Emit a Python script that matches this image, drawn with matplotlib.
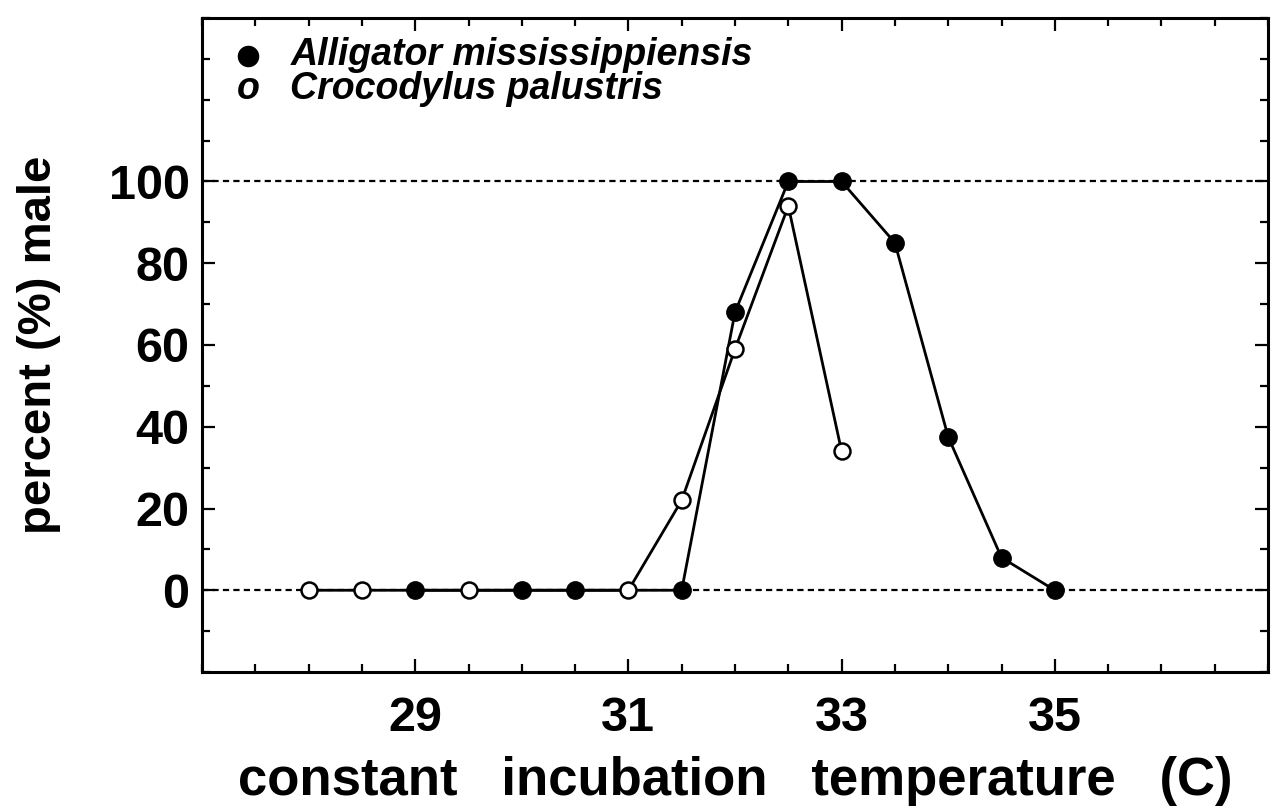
import matplotlib
matplotlib.use("Agg")
import matplotlib.pyplot as plt
from matplotlib.ticker import MultipleLocator

# data
alligator_temp = [29, 30, 30.5, 31.5, 32, 32.5, 33, 33.5, 34, 34.5, 35]
alligator_male = [0, 0, 0, 0, 68, 100, 100, 85, 37.5, 8, 0]
croc_temp = [28, 28.5, 29.5, 31, 31.5, 32, 32.5, 33]
croc_male = [0, 0, 0, 0, 22, 59, 94, 34]

x_ticks = [29, 31, 33, 35]
y_ticks = [0, 20, 40, 60, 80, 100]

plt.rcParams['font.family'] = ['Liberation Sans', 'DejaVu Sans']

W, H = 1272, 810
fig = plt.figure(figsize=(W / 100, H / 100), dpi=100)
ax = fig.add_axes([202 / W, 1 - 672 / H, (1268 - 202) / W, (672 - 18) / H])

# dotted reference lines at 0 and 100
for yv in [0, 100]:
    ax.axhline(yv, color='black', lw=1.6, linestyle=(0, (2.8, 1.9)), zorder=1)

ax.plot(alligator_temp, alligator_male, color='black', lw=2.0, zorder=2,
        marker='o', markersize=12.5, markerfacecolor='black', markeredgecolor='black')
ax.plot(croc_temp, croc_male, color='black', lw=2.0, zorder=3,
        marker='o', markersize=11.5, markerfacecolor='white', markeredgecolor='black',
        markeredgewidth=1.8)

ax.set_xlim(27, 37)
ax.set_ylim(-20, 140)

ax.set_xticks(x_ticks)
ax.set_yticks(y_ticks)
ax.xaxis.set_minor_locator(MultipleLocator(0.5))
ax.yaxis.set_minor_locator(MultipleLocator(10))
ax.tick_params(which='both', direction='in', top=True, right=True, width=1.6)
ax.tick_params(which='major', length=9.5, labelsize=35)
ax.tick_params(which='minor', length=5.5)
ax.tick_params(axis='x', which='major', pad=17)
ax.tick_params(axis='y', which='major', pad=9)
for lab in ax.get_xticklabels() + ax.get_yticklabels():
    lab.set_fontweight('bold')

for s in ax.spines.values():
    s.set_linewidth(2.2)

ax.set_xlabel('constant   incubation   temperature   (C)', fontsize=38,
              fontweight='bold', labelpad=11)
ax.set_ylabel('percent (%) male', fontsize=34, fontweight='bold', labelpad=34)

# legend drawn as text like the original
ax.plot([27.43], [130.6], 'o', color='black', markersize=14.5, clip_on=False)
ax.text(27.83, 128.6, 'Alligator mississippiensis', fontsize=27, fontweight='bold',
        fontstyle='italic', va='baseline')
ax.text(27.43, 120.3, 'o', fontsize=27, fontweight='bold', fontstyle='italic',
        va='baseline', ha='center')
ax.text(27.83, 120.3, 'Crocodylus palustris', fontsize=27, fontweight='bold',
        fontstyle='italic', va='baseline')

fig.savefig('out.png', dpi=100)
